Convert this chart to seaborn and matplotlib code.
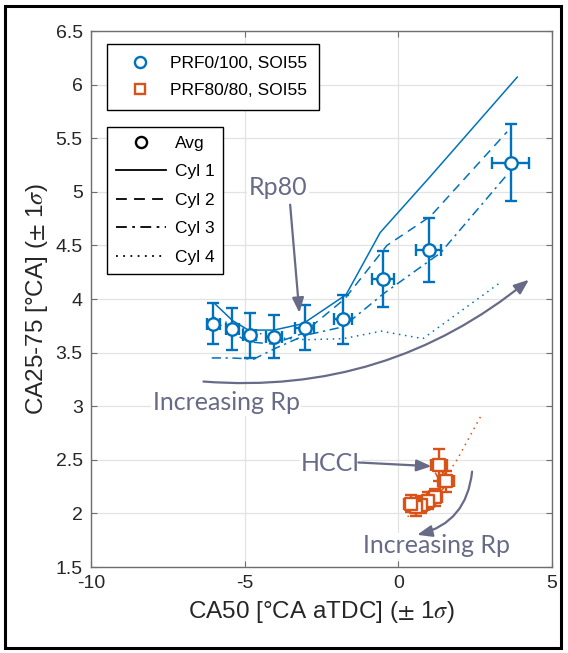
import matplotlib
matplotlib.use("Agg")
import matplotlib.pyplot as plt
from matplotlib.lines import Line2D
from matplotlib.patches import Rectangle
import seaborn as sns
import pandas as pd
import numpy as np

# ---------------- data ----------------
blue_x = [-6.02, -5.40, -4.84, -4.04, -3.05, -1.80, -0.50, 0.99, 3.65]
blue_y = [3.77, 3.72, 3.66, 3.65, 3.73, 3.81, 4.19, 4.46, 5.27]
blue_xerr = [0.22, 0.22, 0.22, 0.25, 0.30, 0.30, 0.36, 0.40, 0.61]
blue_yerr = [0.19, 0.20, 0.21, 0.20, 0.21, 0.23, 0.26, 0.30, 0.36]

b_cyl1_x = [-5.95, -5.40, -4.88, -4.05, -3.10, -1.70, -0.59, 1.00, 3.87]
b_cyl1_y = [3.95, 3.80, 3.71, 3.71, 3.77, 4.04, 4.62, 5.13, 6.07]
b_cyl2_x = [-6.00, -5.40, -4.85, -4.10, -3.10, -1.75, -0.37, 1.04, 3.54]
b_cyl2_y = [3.80, 3.68, 3.60, 3.58, 3.68, 4.00, 4.50, 4.77, 5.56]
b_cyl3_x = [-6.07, -5.45, -4.70, -4.00, -3.05, -1.80, -0.48, 1.37, 3.54]
b_cyl3_y = [3.45, 3.45, 3.44, 3.54, 3.66, 3.74, 4.05, 4.43, 5.16]
b_cyl4_x = [-6.00, -5.40, -4.80, -4.00, -3.00, -1.80, -0.55, 0.80, 3.30]
b_cyl4_y = [3.83, 3.76, 3.70, 3.64, 3.62, 3.63, 3.70, 3.63, 4.15]

orange_x = [1.32, 1.55, 1.18, 0.95, 0.75, 0.58, 0.40]
orange_y = [2.45, 2.30, 2.15, 2.12, 2.08, 2.06, 2.09]
orange_xerr = [0.25, 0.25, 0.25, 0.25, 0.25, 0.25, 0.22]
orange_yerr = [0.15, 0.10, 0.08, 0.08, 0.08, 0.08, 0.08]

o_cyl1_x = [1.45, 1.62, 1.25, 1.00, 0.80, 0.62, 0.45]
o_cyl1_y = [2.40, 2.28, 2.17, 2.12, 2.07, 2.04, 2.05]
o_cyl2_x = [1.40, 1.50, 1.15, 0.92, 0.72, 0.55, 0.38]
o_cyl2_y = [2.42, 2.32, 2.18, 2.14, 2.10, 2.05, 2.08]
o_cyl3_x = [1.20, 1.45, 1.10, 0.90, 0.70, 0.50, 0.30]
o_cyl3_y = [2.38, 2.25, 2.12, 2.10, 2.05, 2.00, 1.97]
o_cyl4_x = [2.67, 1.91, 1.40, 1.05, 0.80, 0.55, 0.40]
o_cyl4_y = [2.90, 2.50, 2.28, 2.16, 2.10, 2.06, 2.12]

legend1_labels = ["PRF0/100, SOI55", "PRF80/80, SOI55"]
legend2_labels = ["Avg", "Cyl 1", "Cyl 2", "Cyl 3", "Cyl 4"]

BLUE = "#0072BD"
ORANGE = "#D95319"
ANN = "#676B87"

plt.rcParams["font.family"] = ["Liberation Sans", "DejaVu Sans"]
plt.rcParams["mathtext.fontset"] = "stix"
plt.rcParams["axes.unicode_minus"] = False

fig = plt.figure(figsize=(5.68, 6.53), dpi=100)
ax = fig.add_axes([91/568, 86/653, 461/568, 536/653])

styles = {
    "Cyl 1": "-",
    "Cyl 2": (0, (6, 4)),
    "Cyl 3": (0, (6, 3, 1.5, 3)),
    "Cyl 4": (0, (1, 3)),
}

def draw_set(cyls, ax_x, ay, xerr, yerr, color, marker, size):
    for name, (cx, cy) in cyls.items():
        df = pd.DataFrame({"x": cx, "y": cy})
        sns.lineplot(data=df, x="x", y="y", sort=False, estimator=None,
                     color=color, linestyle=styles[name], linewidth=1.1,
                     ax=ax, legend=False, zorder=2)
    ax.errorbar(ax_x, ay, xerr=xerr, yerr=yerr, fmt="none", ecolor=color,
                elinewidth=1.7, capsize=4.5, capthick=1.7, zorder=3)
    dfa = pd.DataFrame({"x": ax_x, "y": ay})
    sns.scatterplot(data=dfa, x="x", y="y", marker=marker, s=size,
                    facecolor="white", edgecolor=color, linewidth=1.7,
                    ax=ax, legend=False, zorder=4)

draw_set({"Cyl 1": (b_cyl1_x, b_cyl1_y), "Cyl 2": (b_cyl2_x, b_cyl2_y),
          "Cyl 3": (b_cyl3_x, b_cyl3_y), "Cyl 4": (b_cyl4_x, b_cyl4_y)},
         blue_x, blue_y, blue_xerr, blue_yerr, BLUE, "o", 80)
draw_set({"Cyl 1": (o_cyl1_x, o_cyl1_y), "Cyl 2": (o_cyl2_x, o_cyl2_y),
          "Cyl 3": (o_cyl3_x, o_cyl3_y), "Cyl 4": (o_cyl4_x, o_cyl4_y)},
         orange_x, orange_y, orange_xerr, orange_yerr, ORANGE, "s", 65)

ax.set_xlim(-10, 5)
ax.set_ylim(1.5, 6.5)
ax.set_xticks([-10, -5, 0, 5])
ax.set_xticklabels(["-10", "-5", "0", "5"])
ax.set_yticks(np.arange(1.5, 6.51, 0.5))
ax.set_yticklabels(["1.5", "2", "2.5", "3", "3.5", "4", "4.5", "5", "5.5", "6", "6.5"])
ax.grid(True, color="#E3E3E3", linewidth=0.9, zorder=0)
ax.set_axisbelow(True)
for s in ax.spines.values():
    s.set_color("#6E6E6E")
    s.set_linewidth(1.0)
ax.tick_params(direction="in", length=4, width=0.8, top=True, right=True,
               labelsize=14, colors="#6E6E6E", labelcolor="#262626", pad=6)
ax.set_xlabel(r"CA50 [°CA aTDC] ($\pm$ 1$\sigma$)", fontsize=17.5, color="#262626", labelpad=5)
ax.set_ylabel(r"CA25-75 [°CA] ($\pm$ 1$\sigma$)", fontsize=17.5, color="#262626", labelpad=4)

# legends
h1 = [Line2D([], [], ls="none", marker="o", mfc="white", mec=BLUE, mew=1.7, ms=8),
      Line2D([], [], ls="none", marker="s", mfc="white", mec=ORANGE, mew=1.7, ms=7.5)]
leg1 = ax.legend(h1, legend1_labels, loc="upper left", bbox_to_anchor=(0.035, 0.976),
                 borderaxespad=0, fontsize=12.5, frameon=True, fancybox=False,
                 edgecolor="black", framealpha=1, handlelength=2.4, handletextpad=0.5,
                 labelspacing=0.65, borderpad=0.7)
leg1.get_frame().set_linewidth(1.0)
ax.add_artist(leg1)

h2 = [Line2D([], [], ls="none", marker="o", mfc="white", mec="black", mew=1.7, ms=8),
      Line2D([], [], color="black", ls=styles["Cyl 1"], lw=1.3),
      Line2D([], [], color="black", ls=styles["Cyl 2"], lw=1.3),
      Line2D([], [], color="black", ls=styles["Cyl 3"], lw=1.3),
      Line2D([], [], color="black", ls=styles["Cyl 4"], lw=1.3)]
leg2 = ax.legend(h2, legend2_labels, loc="upper left", bbox_to_anchor=(0.035, 0.821),
                 borderaxespad=0, fontsize=12.5, frameon=True, fancybox=False,
                 edgecolor="black", framealpha=1, handlelength=2.9, handletextpad=0.5,
                 labelspacing=0.77, borderpad=0.5)
leg2.get_frame().set_linewidth(1.0)

# annotations
afont = dict(family=["Lato", "DejaVu Sans"], color=ANN, fontsize=18)
arrow = "-|>,head_length=0.9,head_width=0.35"
ax.text(-3.91, 5.04, "Rp80", ha="center", va="center",
        bbox=dict(fc="white", ec="none", pad=1), **afont)
ax.annotate("", xy=(-3.22, 3.87), xytext=(-3.52, 4.88),
            arrowprops=dict(arrowstyle=arrow, color=ANN, lw=1.6, shrinkA=0, shrinkB=0))
ax.text(-5.6, 3.03, "Increasing Rp", ha="center", va="center",
        bbox=dict(fc="white", ec="none", pad=1), **afont)
ax.annotate("", xy=(4.25, 4.18), xytext=(-6.34, 3.23),
            arrowprops=dict(arrowstyle=arrow, color=ANN, lw=1.6, shrinkA=0, shrinkB=0,
                            connectionstyle="arc3,rad=0.2"))
ax.text(-2.2, 2.47, "HCCI", ha="center", va="center",
        bbox=dict(fc="white", ec="none", pad=1), **afont)
ax.annotate("", xy=(1.08, 2.44), xytext=(-1.30, 2.475),
            arrowprops=dict(arrowstyle=arrow, color=ANN, lw=1.6, shrinkA=0, shrinkB=0))
ax.text(1.24, 1.70, "Increasing Rp", ha="center", va="center",
        bbox=dict(fc="white", ec="none", pad=1), **afont)
ax.annotate("", xy=(0.61, 1.80), xytext=(2.40, 2.39),
            arrowprops=dict(arrowstyle=arrow, color=ANN, lw=1.6, shrinkA=0, shrinkB=0,
                            connectionstyle="arc3,rad=-0.35"))

fig.patches.append(Rectangle((5/568, 5/653), 556/568, 642/653, transform=fig.transFigure,
                             fill=False, lw=2.2, ec="black", zorder=10))

fig.savefig("out.png", dpi=100)
